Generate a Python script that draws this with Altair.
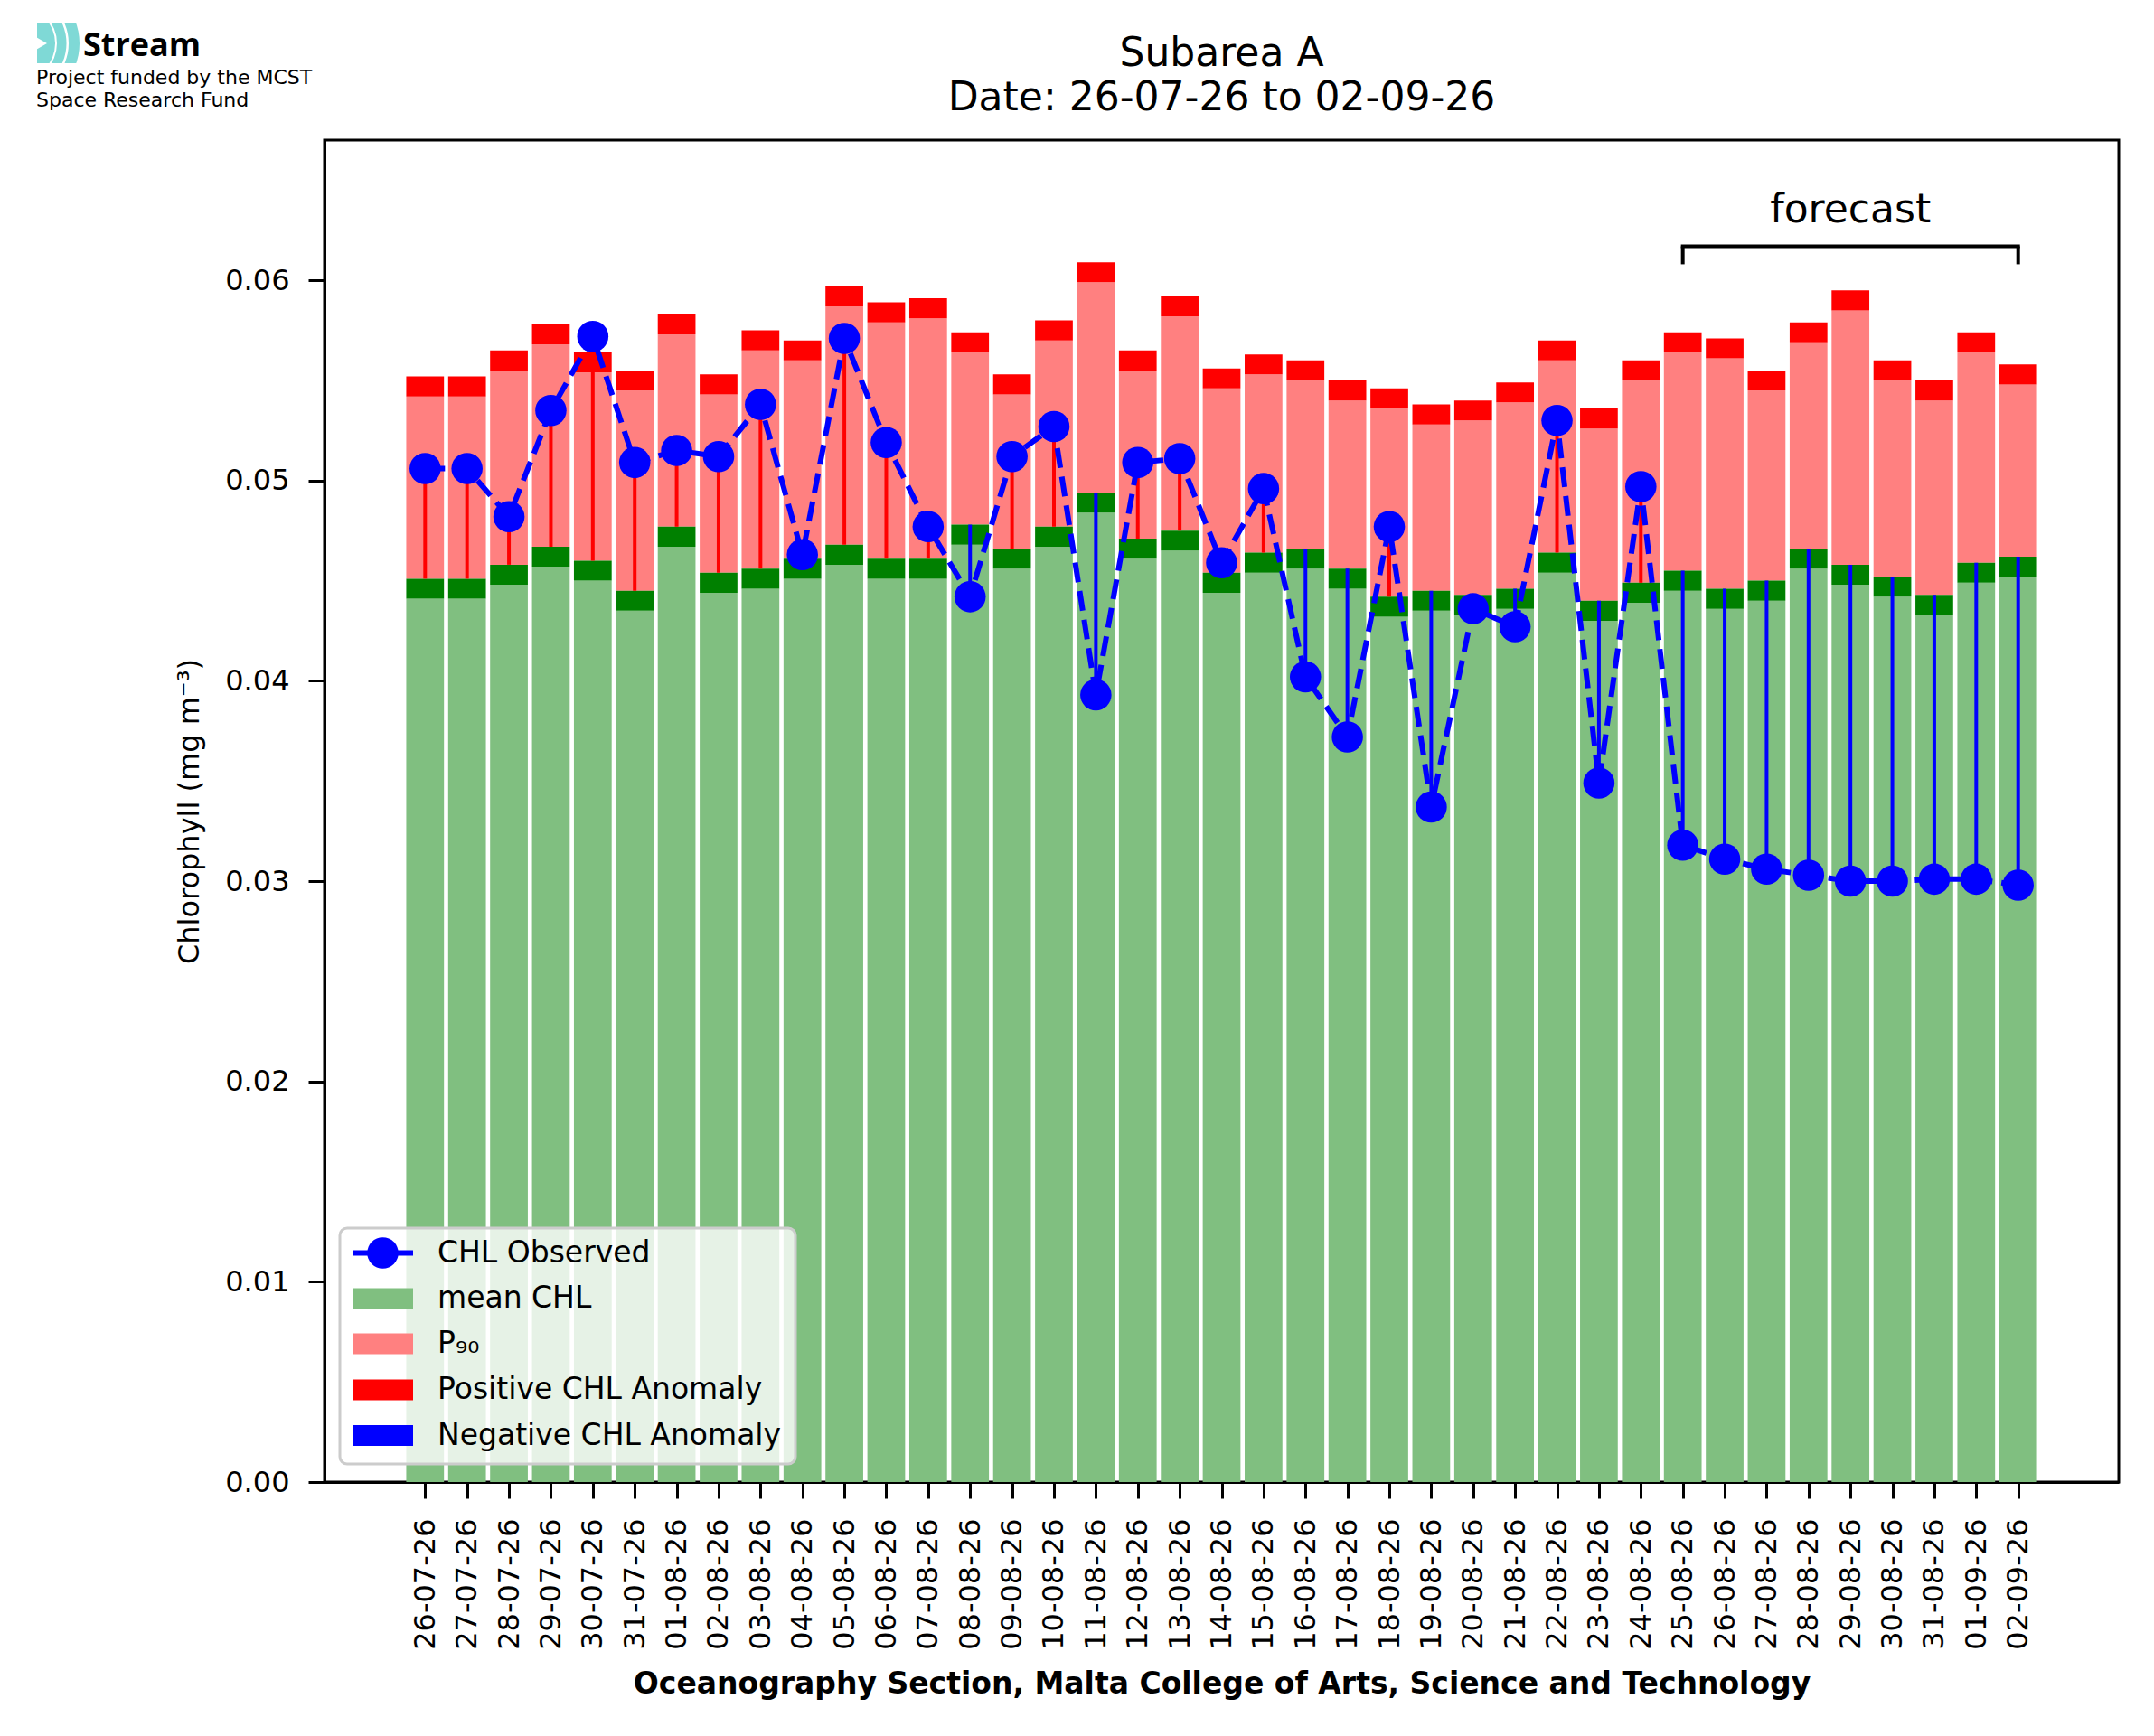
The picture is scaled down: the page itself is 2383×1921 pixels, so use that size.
import altair as alt
import numpy as np
import pandas as pd

# ---------------- data ----------------
dates = ["26-07-26", "27-07-26", "28-07-26", "29-07-26", "30-07-26", "31-07-26",
         "01-08-26", "02-08-26", "03-08-26", "04-08-26", "05-08-26", "06-08-26",
         "07-08-26", "08-08-26", "09-08-26", "10-08-26", "11-08-26", "12-08-26",
         "13-08-26", "14-08-26", "15-08-26", "16-08-26", "17-08-26", "18-08-26",
         "19-08-26", "20-08-26", "21-08-26", "22-08-26", "23-08-26", "24-08-26",
         "25-08-26", "26-08-26", "27-08-26", "28-08-26", "29-08-26", "30-08-26",
         "31-08-26", "01-09-26", "02-09-26"]

mean_chl = [0.0441, 0.0441, 0.0448, 0.0457, 0.0450, 0.0435, 0.0467, 0.0444, 0.0446, 0.0451,
            0.0458, 0.0451, 0.0451, 0.0468, 0.0456, 0.0467, 0.0484, 0.0461, 0.0465, 0.0444,
            0.0454, 0.0456, 0.0446, 0.0432, 0.0435, 0.0433, 0.0436, 0.0454, 0.0430, 0.0439,
            0.0445, 0.0436, 0.0440, 0.0456, 0.0448, 0.0442, 0.0433, 0.0449, 0.0452]

p90_chl = [0.0542, 0.0542, 0.0555, 0.0568, 0.0554, 0.0545, 0.0573, 0.0543, 0.0565, 0.0560,
           0.0587, 0.0579, 0.0581, 0.0564, 0.0543, 0.0570, 0.0599, 0.0555, 0.0582, 0.0546,
           0.0553, 0.0550, 0.0540, 0.0536, 0.0528, 0.0530, 0.0539, 0.0560, 0.0526, 0.0550,
           0.0564, 0.0561, 0.0545, 0.0569, 0.0585, 0.0550, 0.0540, 0.0564, 0.0548]

obs_chl = [0.0506, 0.0506, 0.0482, 0.0535, 0.0572, 0.0509, 0.0515, 0.0512, 0.0538, 0.0463,
           0.0571, 0.0519, 0.0477, 0.0442, 0.0512, 0.0527, 0.0393, 0.0509, 0.0511, 0.0459,
           0.0496, 0.0402, 0.0372, 0.0477, 0.0337, 0.0436, 0.0427, 0.0530, 0.0349, 0.0497,
           0.0318, 0.0311, 0.0306, 0.0303, 0.0300, 0.0300, 0.0301, 0.0301, 0.0298]

band = 0.001                      # thickness of the dark green / red bands
y_ticks = [0.00, 0.01, 0.02, 0.03, 0.04, 0.05, 0.06]
forecast_range = [30, 38]         # indices spanned by the forecast bracket
bracket_y = [0.0617, 0.0608]      # bracket line and bottom of its end ticks
forecast_label_y = 0.0629

legend_labels = ["CHL Observed", "mean CHL", "P₉₀", "Positive CHL Anomaly", "Negative CHL Anomaly"]
legend_colors = ["#0000ff", "#80bf80", "#ff8080", "#ff0000", "#0000ff"]

# ---------------- tables ----------------
n = len(dates)
df = pd.DataFrame({"idx": np.arange(n), "date": dates, "mean": mean_chl,
                   "p90": p90_chl, "obs": obs_chl})
df["x0"] = df["idx"] - 0.45
df["x1"] = df["idx"] + 0.45
df["mtop"] = df["mean"] + band
df["ptop"] = df["p90"] + band
df["zero"] = 0.0
df["stemcol"] = np.where(df["obs"] > df["mtop"], "#ff0000", "#0000ff")

W, H = 1985, 1485
FONT = "DejaVu Sans"

xscale = alt.Scale(domain=[-2.4, 40.4], nice=False, zero=False)
yscale = alt.Scale(domain=[0, 0.067], nice=False, zero=False)

label_expr = "[" + ",".join(f"'{d}'" for d in dates) + "][datum.value]"
xaxis = alt.Axis(values=list(range(n)), labelExpr=label_expr, labelAngle=270,
                 labelFontSize=32, labelPadding=22, labelFlush=False, labelOverlap=False,
                 tickSize=18, tickWidth=3, grid=False,
                 title="Oceanography Section, Malta College of Arts, Science and Technology",
                 titleFontSize=33, titleFontWeight="bold", titlePadding=22)
yaxis = alt.Axis(values=y_ticks, format=".2f", labelFontSize=32, labelPadding=21,
                 tickSize=18, tickWidth=3, grid=False,
                 title="Chlorophyll (mg m⁻³)", titleFontSize=32, titleFontWeight="normal",
                 titlePadding=22)


def X(field):
    return alt.X(field, type="quantitative", scale=xscale, axis=xaxis)


def Y(field):
    return alt.Y(field, type="quantitative", scale=yscale, axis=yaxis)


base = alt.Chart(df)

green = base.mark_rect(color="#80bf80").encode(x=X("x0"), x2="x1", y=Y("mean"), y2="zero")
lightred = base.mark_rect(color="#ff8080").encode(x=X("x0"), x2="x1", y=Y("mtop"), y2="p90")
darkgreen = base.mark_rect(color="#008000").encode(x=X("x0"), x2="x1", y=Y("mean"), y2="mtop")
redband = base.mark_rect(color="#ff0000").encode(x=X("x0"), x2="x1", y=Y("p90"), y2="ptop")
stems = base.mark_rule(strokeWidth=4).encode(
    x=X("idx"), y=Y("obs"), y2="mtop", color=alt.Color("stemcol:N", scale=None))
line = base.mark_line(color="#0000ff", strokeWidth=6, strokeDash=[22, 10]).encode(
    x=X("idx"), y=Y("obs"))
points = base.mark_circle(color="#0000ff", size=1195, opacity=1).encode(
    x=X("idx"), y=Y("obs"))

# forecast bracket
bdf = pd.DataFrame({"xa": [forecast_range[0]], "xb": [forecast_range[1]], "y": [bracket_y[0]]})
bracket_h = alt.Chart(bdf).mark_rule(color="black", strokeWidth=4, strokeCap="square").encode(
    x=X("xa"), x2="xb", y=Y("y"))
tdf = pd.DataFrame({"x": forecast_range, "y": [bracket_y[0]] * 2, "y2": [bracket_y[1]] * 2})
bracket_v = alt.Chart(tdf).mark_rule(color="black", strokeWidth=4).encode(
    x=X("x"), y=Y("y"), y2="y2")
fdf = pd.DataFrame({"x": [sum(forecast_range) / 2], "y": [forecast_label_y], "t": ["forecast"]})
forecast_txt = alt.Chart(fdf).mark_text(font=FONT, fontSize=44, align="center",
                                        baseline="alphabetic", color="black").encode(
    x=X("x"), y=Y("y"), text="t:N")

one = pd.DataFrame({"a": [0]})

# titles
title1 = alt.Chart(one).mark_text(text="Subarea A", font=FONT, fontSize=44, align="center",
                                  baseline="alphabetic", color="black").encode(
    x=alt.value(W / 2), y=alt.value(-82))
title2 = alt.Chart(one).mark_text(text="Date: 26-07-26 to 02-09-26", font=FONT, fontSize=44,
                                  align="center", baseline="alphabetic", color="black").encode(
    x=alt.value(W / 2), y=alt.value(-33))

# legend
leg_layers = [alt.Chart(one).mark_rect(fill="white", fillOpacity=0.8, stroke="#cccccc",
                                       strokeWidth=3, cornerRadius=8).encode(
    x=alt.value(17), x2=alt.value(521), y=alt.value(1204), y2=alt.value(1465))]
row_y = [1231.5, 1282, 1332, 1383, 1433.5]
for i, (lab, col) in enumerate(zip(legend_labels, legend_colors)):
    ry = row_y[i]
    if i == 0:
        leg_layers.append(alt.Chart(one).mark_rule(color=col, strokeWidth=6).encode(
            x=alt.value(31), x2=alt.value(98), y=alt.value(ry)))
        leg_layers.append(alt.Chart(one).mark_circle(color=col, size=1195, opacity=1).encode(
            x=alt.value(64.5), y=alt.value(ry)))
    else:
        leg_layers.append(alt.Chart(one).mark_rect(color=col).encode(
            x=alt.value(31), x2=alt.value(98), y=alt.value(ry - 11.5), y2=alt.value(ry + 11.5)))
    leg_layers.append(alt.Chart(one).mark_text(text=lab, font=FONT, fontSize=33, align="left",
                                               baseline="middle", color="black").encode(
        x=alt.value(125), y=alt.value(ry)))

# logo (cyan block with white curved cuts, then text)
LX, LY = -339, -107   # centre of curvature of the logo arcs
logo = [
    alt.Chart(one).mark_rect(color="#7fd9d6").encode(
        x=alt.value(-318), x2=alt.value(-271), y=alt.value(-129), y2=alt.value(-85)),
    alt.Chart(one).mark_arc(color="white", radius=43, radius2=41, theta=0, theta2=3.1416).encode(
        x=alt.value(LX), y=alt.value(LY)),
    alt.Chart(one).mark_arc(color="white", radius=56, radius2=53.5, theta=0, theta2=3.1416).encode(
        x=alt.value(LX), y=alt.value(LY)),
    alt.Chart(one).mark_arc(color="white", radius=100, radius2=68, theta=0, theta2=3.1416).encode(
        x=alt.value(LX), y=alt.value(LY)),
    alt.Chart(one).mark_point(shape="triangle-right", filled=True, color="white", size=260,
                              opacity=1).encode(x=alt.value(-314), y=alt.value(LY)),
    alt.Chart(one).mark_text(text="Stream", font="Open Sans", fontWeight="bold", fontSize=36,
                             align="left", baseline="alphabetic", color="black").encode(
        x=alt.value(-267), y=alt.value(-93)),
    alt.Chart(one).mark_text(text="Project funded by the MCST", font=FONT, fontSize=22,
                             align="left", baseline="alphabetic", color="black").encode(
        x=alt.value(-319), y=alt.value(-62)),
    alt.Chart(one).mark_text(text="Space Research Fund", font=FONT, fontSize=22,
                             align="left", baseline="alphabetic", color="black").encode(
        x=alt.value(-319), y=alt.value(-37)),
]

chart = alt.layer(
    green, lightred, darkgreen, redband, stems, line, points,
    bracket_h, bracket_v, forecast_txt, title1, title2, *leg_layers, *logo
).properties(
    width=W, height=H,
    autosize=alt.AutoSizeParams(type="none"),
    padding={"left": 351, "top": 147, "right": 31, "bottom": 273},
).configure_view(
    stroke="black", strokeWidth=3
).configure_axis(
    labelFont=FONT, titleFont=FONT, labelColor="black", titleColor="black",
    tickColor="black", domainColor="black", domainWidth=3
)

chart.save("out.html", embed_options={"renderer": "svg", "actions": False})
